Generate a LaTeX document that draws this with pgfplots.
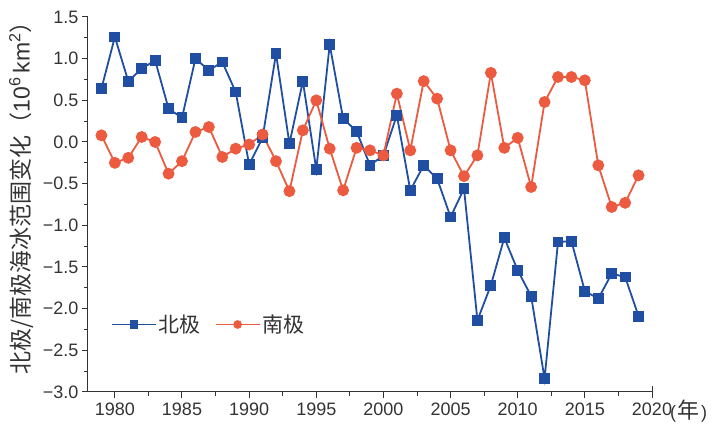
\documentclass[border=0pt]{standalone}
\usepackage{fontspec}
\setmainfont{Liberation Sans}
\newfontfamily\cjk{Noto Sans CJK SC}
\usepackage{pgfplots}
\usepackage{pgfplotstable}
\pgfplotsset{compat=1.18}

\definecolor{arctic}{HTML}{1F4EA3}
\definecolor{antarctic}{HTML}{EC5A40}
\definecolor{txt}{HTML}{333333}

% sea ice extent anomaly, 10^6 km^2
\pgfplotstableread{
year arctic antarctic
1979  0.64  0.08
1980  1.26 -0.25
1981  0.73 -0.19
1982  0.88  0.06
1983  0.98  0.00
1984  0.40 -0.38
1985  0.29 -0.23
1986  1.00  0.12
1987  0.86  0.18
1988  0.96 -0.18
1989  0.60 -0.08
1990 -0.27 -0.03
1991  0.05  0.09
1992  1.06 -0.23
1993 -0.02 -0.59
1994  0.73  0.14
1995 -0.33  0.50
1996  1.17 -0.08
1997  0.28 -0.58
1998  0.13 -0.07
1999 -0.28 -0.10
2000 -0.16 -0.16
2001  0.32  0.58
2002 -0.58 -0.10
2003 -0.28  0.73
2004 -0.44  0.52
2005 -0.90 -0.10
2006 -0.56 -0.41
2007 -2.14 -0.16
2008 -1.72  0.83
2009 -1.15 -0.07
2010 -1.54  0.05
2011 -1.85 -0.54
2012 -2.84  0.48
2013 -1.20  0.78
2014 -1.19  0.78
2015 -1.79  0.74
2016 -1.88 -0.28
2017 -1.58 -0.78
2018 -1.62 -0.73
2019 -2.09 -0.40
}\seaice

\begin{document}
\begin{tikzpicture}
\useasboundingbox (-88pt,-33pt) rectangle (627pt,392pt);
\begin{axis}[
    at={(0pt,0pt)}, anchor=south west,
    scale only axis,
    width=564pt, height=375pt,
    xmin=1978, xmax=2020,
    ymin=-3, ymax=1.5,
    clip=false,
    axis lines=left,
    axis line style={-, line width=1pt, txt},
    xtick={1980,1985,...,2020},
    xticklabels={1980,1985,1990,1995,2000,2005,2010,2015,2020},
    minor xtick={1982.5,1987.5,...,2017.5},
    ytick={-3,-2.5,...,1.5},
    yticklabels={−3.0,−2.5,−2.0,−1.5,−1.0,−0.5,0.0,0.5,1.0,1.5},
    minor ytick={-2.75,-2.25,...,1.25},
    tick align=outside,
    major tick length=6pt, minor tick length=4pt,
    tick style={txt, line width=1pt},
    ticklabel style={font=\fontsize{18}{20}\selectfont, text=txt},
    xticklabel style={yshift=-1pt, inner xsep=0pt},
    ylabel={{\cjk 北极/南极海冰范围变化（}10\textsuperscript{6}\,km\textsuperscript{2}{\cjk ）}},
    ylabel style={at={(axis description cs:-0.118,0.533)}, anchor=center,
                  font=\fontsize{23}{25}\selectfont, text=txt},
    xlabel={(\kern1.5pt{\cjk\fontsize{22}{24}\selectfont 年}\kern1.5pt)},
    xlabel style={at={(axis description cs:1,0)}, anchor=base west,
                  xshift=18pt, yshift=-27pt, inner sep=0pt,
                  font=\fontsize{18}{20}\selectfont, text=txt},
    legend columns=2,
    legend style={at={(axis description cs:0.035,0.18)}, anchor=west,
                  draw=none, fill=none,
                  font=\fontsize{21}{23}\selectfont\cjk, text=txt,
                  /tikz/every even column/.append style={column sep=12pt}},
    legend image code/.code={
        \draw[#1, mark size=3.4pt] plot[mark repeat=2, mark phase=2]
            coordinates {(0pt,0pt) (22pt,0pt) (44pt,0pt)};
    },
]
\addplot[arctic, line width=1.8pt, mark=square*, mark size=4.5pt,
         mark options={solid, fill=arctic}]
    table[x=year, y=arctic] {\seaice};
\addplot[antarctic, line width=1.8pt, mark=*, mark size=5pt,
         mark options={solid, fill=antarctic}]
    table[x=year, y=antarctic] {\seaice};
\legend{北极,南极}
\draw[txt, line width=1pt] (rel axis cs:1,0) -- ++(0pt,6pt);
\end{axis}
\end{tikzpicture}
\end{document}
